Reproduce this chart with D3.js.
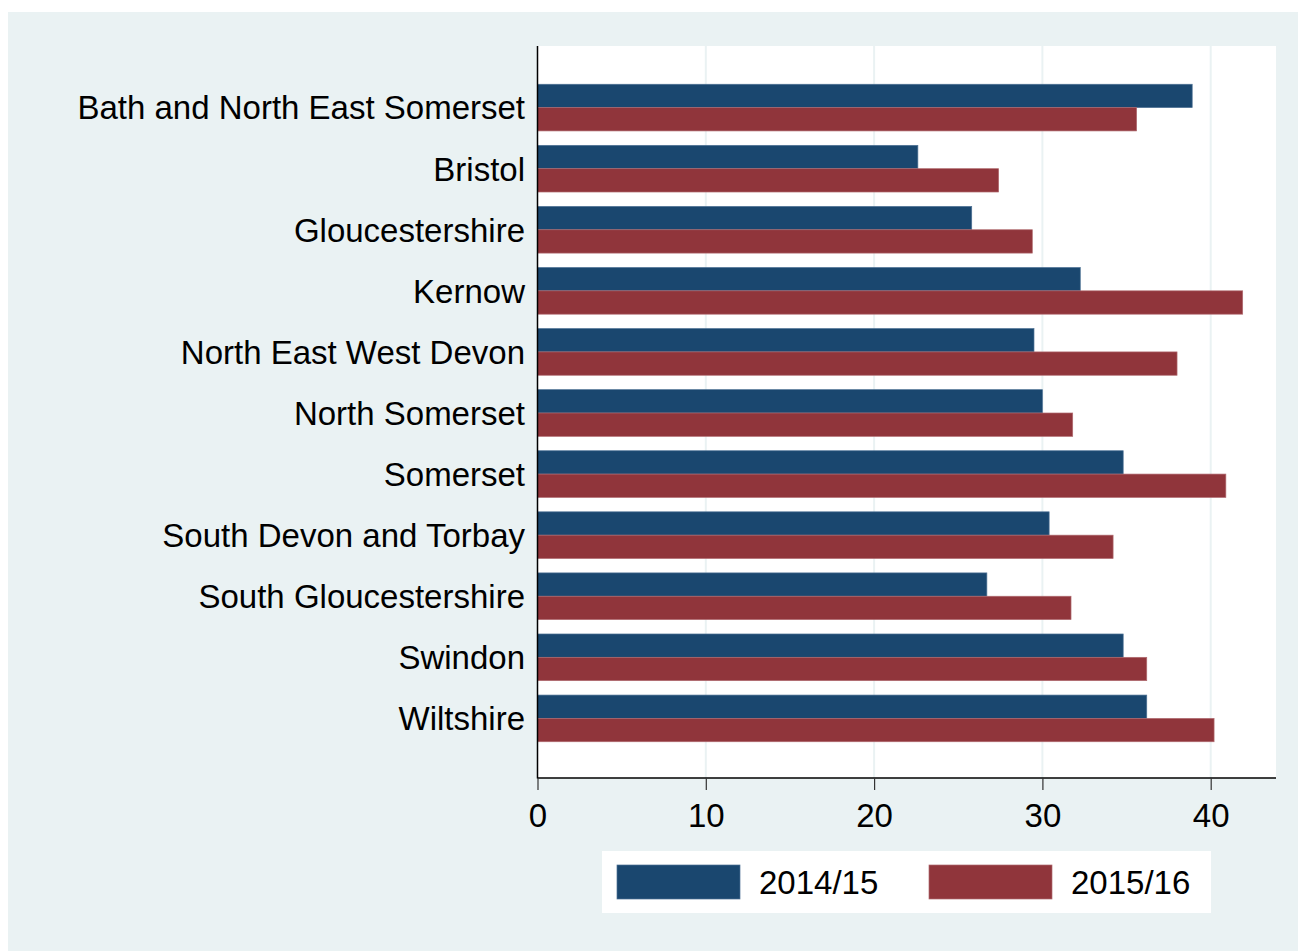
<!DOCTYPE html>
<html>
<head>
<meta charset="utf-8">
<script src="https://cdn.jsdelivr.net/npm/d3@7"></script>
<style>
  body { margin: 0; background: #fff; }
  text { font-family: "Liberation Sans", Arial, sans-serif; fill: #000; }
</style>
</head>
<body>
<svg id="chart" width="1298" height="951"></svg>
<script>
const categories = [
  'Bath and North East Somerset', 'Bristol', 'Gloucestershire', 'Kernow',
  'North East West Devon', 'North Somerset', 'Somerset', 'South Devon and Torbay',
  'South Gloucestershire', 'Swindon', 'Wiltshire'
];
const seriesNames = ['2014/15', '2015/16'];
const values2014 = [38.9, 22.6, 25.8, 32.25, 29.5, 30.0, 34.8, 30.4, 26.7, 34.8, 36.2];
const values2015 = [35.6, 27.4, 29.4, 41.9, 38.0, 31.8, 40.9, 34.2, 31.7, 36.2, 40.2];
const xTicks = [0, 10, 20, 30, 40];
const colors = ['#1a476f', '#90353b'];
const strokes = ['#4d7194', '#b06a6f'];

const svg = d3.select('#chart');
const bg = '#eaf2f3';
const fontSize = 33;

// outer panel
svg.append('rect')
  .attr('x', 8).attr('y', 12)
  .attr('width', 1290).attr('height', 939)
  .attr('fill', bg);

const plot = { left: 537.5, right: 1276, top: 46, bottom: 778 };

svg.append('rect')
  .attr('x', plot.left).attr('y', plot.top)
  .attr('width', plot.right - plot.left).attr('height', plot.bottom - plot.top)
  .attr('fill', '#fff');

const x = d3.scaleLinear().domain([0, 40]).range([plot.left, 1210.7]);

const y = d3.scaleBand()
  .domain(categories)
  .range([plot.top + 1, plot.bottom + 1])
  .paddingInner(0.236)
  .paddingOuter(0.61);

const ySub = d3.scaleBand().domain(seriesNames).range([0, y.bandwidth()]);

// gridlines
svg.append('g')
  .selectAll('line')
  .data(xTicks.filter(d => d > 0))
  .enter()
  .append('line')
  .attr('x1', d => x(d)).attr('x2', d => x(d))
  .attr('y1', plot.top).attr('y2', plot.bottom)
  .attr('stroke', bg)
  .attr('stroke-width', 2);

const rows = categories.map((c, i) => ({ cat: c, vals: [values2014[i], values2015[i]] }));

const group = svg.append('g')
  .selectAll('g')
  .data(rows)
  .enter()
  .append('g')
  .attr('transform', d => 'translate(0,' + y(d.cat) + ')');

group.selectAll('rect')
  .data(d => d.vals.map((v, j) => ({ v: v, s: seriesNames[j], j: j })))
  .enter()
  .append('rect')
  .attr('x', x(0))
  .attr('y', d => ySub(d.s))
  .attr('width', d => x(d.v) - x(0))
  .attr('height', ySub.bandwidth())
  .attr('fill', d => colors[d.j])
  .attr('stroke', d => strokes[d.j])
  .attr('stroke-width', 0.7);

// category labels
svg.append('g')
  .selectAll('text')
  .data(categories)
  .enter()
  .append('text')
  .attr('x', 525)
  .attr('y', d => y(d) + y.bandwidth() / 2)
  .attr('dy', '0.36em')
  .attr('text-anchor', 'end')
  .attr('font-size', fontSize)
  .text(d => d);

// axes
svg.append('line')
  .attr('x1', plot.left).attr('x2', plot.left)
  .attr('y1', plot.top).attr('y2', plot.bottom + 0.5)
  .attr('stroke', '#000').attr('stroke-width', 1.5);

const xAxis = svg.append('g')
  .attr('transform', 'translate(0,' + plot.bottom + ')')
  .call(d3.axisBottom(x).tickValues(xTicks).tickSize(12).tickPadding(14).tickFormat(d3.format('d')));
xAxis.select('.domain')
  .attr('d', 'M' + plot.left + ',0H' + plot.right)
  .attr('stroke', '#000')
  .attr('stroke-width', 1.5);
xAxis.selectAll('.tick line').attr('stroke', '#333').attr('stroke-width', 1.2);
xAxis.selectAll('.tick text')
  .attr('font-size', fontSize)
  .attr('font-family', '"Liberation Sans", Arial, sans-serif')
  .attr('fill', '#000');

// legend
const legend = svg.append('g');
legend.append('rect')
  .attr('x', 602).attr('y', 851)
  .attr('width', 609).attr('height', 62)
  .attr('fill', '#fff');

const legendX = [617, 929];
seriesNames.forEach((s, j) => {
  legend.append('rect')
    .attr('x', legendX[j]).attr('y', 865)
    .attr('width', 123).attr('height', 34)
    .attr('fill', colors[j])
    .attr('stroke', strokes[j])
    .attr('stroke-width', 0.7);
  legend.append('text')
    .attr('x', legendX[j] + 142)
    .attr('y', 882)
    .attr('dy', '0.36em')
    .attr('font-size', fontSize)
    .text(s);
});
</script>
</body>
</html>
